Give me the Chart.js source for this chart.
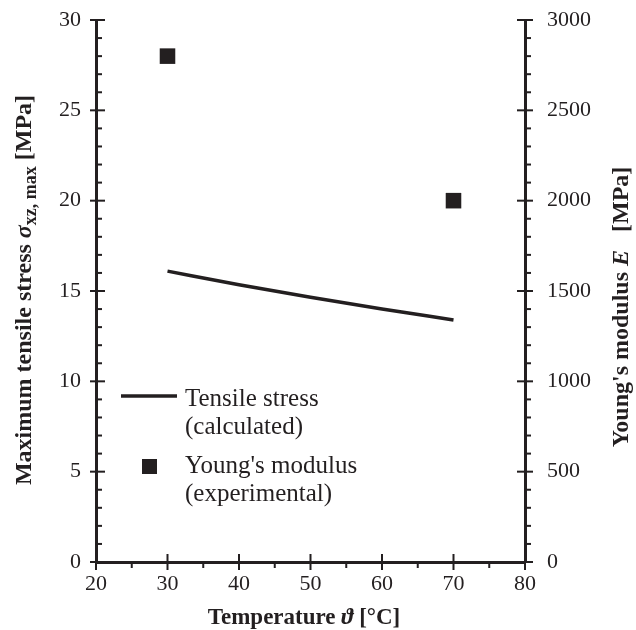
<!DOCTYPE html>
<html>
<head>
<meta charset="utf-8">
<script src="https://cdn.jsdelivr.net/npm/chart.js@4"></script>
<style>body{margin:0;background:#fff}</style>
</head>
<body>
<canvas id="myChart" width="636" height="630"></canvas>
<script>
// values
const temperatures = [30, 40, 50, 60, 70];
const tensileStress = [16.1, 15.35, 14.65, 14.0, 13.4];
const modulusTemperatures = [30, 70];
const youngsModulus = [2800, 2000];

// tick labels
const tempTicks = [20, 30, 40, 50, 60, 70, 80];
const stressTicks = [0, 5, 10, 15, 20, 25, 30];
const modulusTicks = [0, 500, 1000, 1500, 2000, 2500, 3000];

const legendLabels = [['Tensile stress', '(calculated)'], ["Young's modulus", '(experimental)']];

const ink = '#231f20';
const serif = '"Liberation Serif", "Times New Roman", serif';

function setTicks(list) {
    return scale => { scale.ticks = list.map(v => ({ value: v })); };
}

// minor ticks between the major ones
function minorValues(list, divs) {
    const out = [];
    for (let i = 0; i < list.length - 1; i++) {
        const step = (list[i + 1] - list[i]) / divs;
        for (let k = 1; k < divs; k++) out.push(list[i] + k * step);
    }
    return out;
}

const tickMarks = {
    id: 'tickMarks',
    afterDraw(chart) {
        const ctx = chart.ctx;
        const sx = chart.scales.x, sy = chart.scales.y, sy1 = chart.scales.y1;
        const ax = chart.chartArea.left, bx = chart.chartArea.right, ay = chart.chartArea.bottom;
        ctx.save();
        ctx.strokeStyle = ink;
        ctx.lineWidth = 2;
        const line = (x1, y1, x2, y2) => { ctx.beginPath(); ctx.moveTo(x1, y1); ctx.lineTo(x2, y2); ctx.stroke(); };

        tempTicks.forEach(v => { const p = sx.getPixelForValue(v); line(p, ay - 8, p, ay + 8); });
        minorValues(tempTicks, 2).forEach(v => { const p = sx.getPixelForValue(v); line(p, ay, p, ay + 6); });

        stressTicks.forEach(v => { const p = sy.getPixelForValue(v); line(ax - 6, p, ax + 9, p); });
        minorValues(stressTicks, 5).forEach(v => { const p = sy.getPixelForValue(v); line(ax, p, ax + 6, p); });

        modulusTicks.forEach(v => { const p = sy1.getPixelForValue(v); line(bx - 8, p, bx + 8, p); });
        minorValues(modulusTicks, 5).forEach(v => { const p = sy1.getPixelForValue(v); line(bx, p, bx + 6, p); });
        ctx.restore();
    }
};

// text made of runs with different fonts (for italics and subscripts)
function drawRuns(ctx, runs, cx, cy, angle) {
    ctx.save();
    ctx.translate(cx, cy);
    ctx.rotate(angle);
    let total = 0;
    runs.forEach(r => { ctx.font = r.font; r.w = ctx.measureText(r.text).width; total += r.w; });
    let x = -total / 2;
    ctx.fillStyle = ink;
    ctx.textBaseline = 'alphabetic';
    runs.forEach(r => { ctx.font = r.font; ctx.fillText(r.text, x, 8 + (r.dy || 0)); x += r.w; });
    ctx.restore();
}

const axisTitles = {
    id: 'axisTitles',
    afterDraw(chart) {
        const ctx = chart.ctx;
        const b = 'bold 24px ' + serif, bi = 'italic bold 24px ' + serif, sub = 'bold 18px ' + serif;
        drawRuns(ctx, [
            { text: 'Maximum tensile stress ', font: b },
            { text: 'σ', font: bi },
            { text: 'xz, max', font: sub, dy: 5 },
            { text: ' [MPa]', font: b }
        ], 23, 290, -Math.PI / 2);
        drawRuns(ctx, [
            { text: "Young's modulus ", font: b },
            { text: 'E', font: bi },
            { text: '   [MPa]', font: b }
        ], 620, 307, -Math.PI / 2);
        drawRuns(ctx, [
            { text: 'Temperature ', font: 'bold 23px ' + serif },
            { text: 'ϑ', font: 'italic bold 23px ' + serif },
            { text: ' [°C]', font: 'bold 23px ' + serif }
        ], 304, 616, 0);
    }
};

const innerLegend = {
    id: 'innerLegend',
    afterDraw(chart) {
        const ctx = chart.ctx;
        const left = chart.chartArea.left;
        ctx.save();
        ctx.fillStyle = ink;
        ctx.strokeStyle = ink;
        ctx.lineWidth = 3.5;
        ctx.beginPath();
        ctx.moveTo(left + 25, 396);
        ctx.lineTo(left + 81, 396);
        ctx.stroke();
        ctx.fillRect(left + 46, 459, 15, 15);
        ctx.font = '25px ' + serif;
        ctx.textBaseline = 'middle';
        ctx.fillText(legendLabels[0][0], left + 89, 399);
        ctx.fillText(legendLabels[0][1], left + 89, 427);
        ctx.fillText(legendLabels[1][0], left + 89, 466);
        ctx.fillText(legendLabels[1][1], left + 89, 494);
        ctx.restore();
    }
};

const tickFont = { family: serif, size: 22 };

// keep the plot box fixed: no extra padding for end labels
function noPad(scale) {
    scale.paddingTop = 0;
    scale.paddingBottom = 0;
    scale.paddingLeft = 0;
    scale.paddingRight = 0;
}

function createChart() {
    const ctx = document.getElementById('myChart').getContext('2d');
    return new Chart(ctx, {
        type: 'scatter',
        data: {
            datasets: [{
                label: 'Tensile stress (calculated)',
                data: temperatures.map((t, i) => ({ x: t, y: tensileStress[i] })),
                yAxisID: 'y',
                showLine: true,
                borderColor: ink,
                borderWidth: 3.5,
                pointRadius: 0,
                cubicInterpolationMode: 'monotone',
                fill: false
            }, {
                label: "Young's modulus (experimental)",
                data: modulusTemperatures.map((t, i) => ({ x: t, y: youngsModulus[i] })),
                yAxisID: 'y1',
                pointStyle: 'rect',
                pointRadius: 11,
                backgroundColor: ink,
                borderWidth: 0
            }]
        },
        options: {
            responsive: false,
            animation: false,
            layout: { padding: { top: 20, left: 0, right: 0, bottom: 0 } },
            plugins: { legend: { display: false }, tooltip: { enabled: false } },
            scales: {
                x: {
                    type: 'linear', min: 20, max: 80,
                    afterBuildTicks: setTicks(tempTicks),
                    afterFit: s => { s.height = 68; noPad(s); },
                    ticks: { font: tickFont, color: ink, padding: 9, maxRotation: 0, callback: v => String(v) },
                    grid: { drawOnChartArea: false, drawTicks: false },
                    border: { color: ink, width: 3 }
                },
                y: {
                    type: 'linear', position: 'left', min: 0, max: 30,
                    afterBuildTicks: setTicks(stressTicks),
                    afterFit: s => { s.width = 96; noPad(s); },
                    ticks: { font: tickFont, color: ink, padding: 15, callback: v => String(v) },
                    grid: { drawOnChartArea: false, drawTicks: false },
                    border: { color: ink, width: 3 }
                },
                y1: {
                    type: 'linear', position: 'right', min: 0, max: 3000,
                    afterBuildTicks: setTicks(modulusTicks),
                    afterFit: s => { s.width = 111; noPad(s); },
                    ticks: { font: tickFont, color: ink, padding: 22, callback: v => String(v) },
                    grid: { drawOnChartArea: false, drawTicks: false },
                    border: { color: ink, width: 3 }
                }
            }
        },
        plugins: [tickMarks, axisTitles, innerLegend]
    });
}

createChart();
</script>
</body>
</html>
